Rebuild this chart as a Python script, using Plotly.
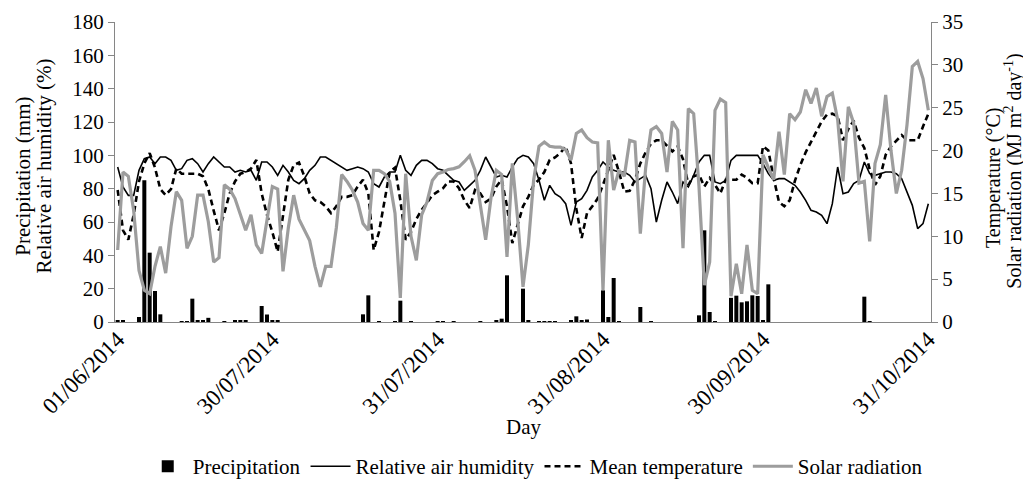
import pandas as pd
import plotly.graph_objects as go

# ---- data (daily values, 01/06/2014 .. 31/10/2014) ----
days = pd.date_range("2014-06-01", "2014-10-31", freq="D")

precipitation = [
    0.8, 0.8, 0, 0, 3, 85, 41.6, 18.6, 4.6, 0,
    0, 0, 0.5, 0.5, 14, 0.8, 0.8, 2.5, 0, 0,
    0.5, 0, 0.8, 0.8, 0.8, 0, 0, 9.6, 4.5, 0.8,
    0.8, 0, 0, 0, 0, 0, 0, 0, 0, 0,
    0, 0, 0, 0, 0, 0, 4.6, 16, 0, 0.5,
    0, 0, 0.5, 12.8, 0, 0.5, 0, 0, 0, 0,
    0.5, 0.5, 0, 0.5, 0, 0, 0, 0, 0.5, 0,
    0, 1, 2, 28, 0, 0, 20, 0.8, 0, 0.5,
    0.5, 0.5, 0.5, 0, 0, 1, 3.4, 1, 1.5, 0,
    0, 19, 3, 26.4, 0.5, 0, 0, 0, 9, 0,
    0.5, 0, 0, 0, 0, 0, 0, 0, 0, 4,
    55, 6, 0.5, 0, 0, 14.5, 15.8, 11.8, 12.4, 16,
    15.6, 1.2, 22.6, 0, 0, 0, 0, 0, 0, 0,
    0, 0, 0, 0, 0, 0, 0, 0, 0, 0,
    15.2, 0.5, 0, 0, 0, 0, 0, 0, 0, 0,
    0, 0, 0,
]

humidity = [
    93, 81, 76, 76, 91, 98, 99, 95, 99, 99,
    97, 91, 92, 97, 98, 95, 90, 95, 99, 96,
    93, 93, 90, 91, 90, 91, 85, 96, 96, 93,
    88, 94, 90, 85, 83, 86, 91, 94, 99, 99,
    97, 95, 93, 91, 92, 93, 92, 90, 83, 81,
    87, 90, 90, 100, 91, 88, 94, 97, 97, 95,
    92, 91, 88, 85, 84, 79, 82, 85, 91, 99,
    93, 87, 88, 87, 93, 98, 100, 99, 95, 85,
    73, 82, 77, 75, 71, 58, 72, 74, 79, 87,
    91, 96, 93, 91, 90, 90, 88, 84, 86, 88,
    80, 60, 73, 84, 78, 71, 84, 81, 88, 96,
    100, 100, 84, 83, 85, 97, 100, 100, 100, 100,
    100, 95, 89, 85, 86, 86, 84, 82, 78, 73,
    67, 66, 64, 59, 71, 93, 77, 78, 83, 85,
    96, 89, 88, 89, 90, 90, 89, 86, 78, 70,
    56, 59, 71,
]

temperature = [
    15.4, 10.7, 9.6, 12.5, 16.4, 18.5, 19.7, 18, 15.5, 14.8,
    15.5, 17.9, 17.3, 17.3, 17.3, 17.3, 17, 15.5, 13, 10.7,
    12.7, 15, 16.4, 17.3, 17.5, 17.9, 18.9, 15, 12.5, 10.5,
    8.2, 12.3, 16.6, 18.3, 18.6, 17, 15, 14.2, 14, 13.5,
    12.7, 13.5, 14.6, 14.6, 14.8, 15.8, 16.6, 15, 8.4, 10.5,
    14, 17.5, 18, 14.2, 9.6, 10.5, 12, 13.1, 13.9, 14.8,
    15.2, 15.6, 16.4, 16.4, 15.6, 14.2, 13.3, 15.4, 15, 14,
    14.4, 15.8, 16.6, 13.5, 9.2, 11.5, 13.5, 14.6, 16, 16.6,
    17.5, 18.9, 19.2, 19.7, 20.5, 18.5, 13.2, 9.8, 12.7, 13.5,
    14.4, 16, 17.8, 19.5, 17.5, 15.2, 15.3, 16.6, 18.5, 19.8,
    20.8, 21.2, 21.2, 20.5, 19.9, 20.5, 19, 16, 17, 17.2,
    15.8, 16.8, 16, 15, 16.6, 16.6, 16.6, 17.2, 16.8, 16.2,
    16.2, 20.5, 20, 16.8, 14, 13.5, 14.2, 16.5, 18.3, 19.8,
    21, 22.3, 23.4, 24.2, 24.3, 24, 21.2, 22.5, 23.5, 21.5,
    20.3, 17.8, 16, 17, 19.5, 20.5, 21.2, 21.8, 21.2, 21.2,
    21.2, 22.8, 24.3,
]

solar = [
    8.4, 17.5, 17, 13, 6, 3.7, 3.3, 6.5, 8.8, 5.7,
    11.1, 15.2, 14.2, 8.6, 10, 14.8, 14.8, 11.7, 7, 7.5,
    16, 15.5, 14.4, 12.5, 10.7, 12.5, 9, 8, 12, 15.8,
    15.5, 5.9, 11, 14.8, 12, 10.7, 9.5, 6.5, 4.1, 6.5,
    6.5, 11, 17.2, 16.4, 15.4, 14, 11.5, 10.7, 17.7, 17.7,
    17.3, 16.4, 12.7, 2.8, 17.3, 10, 7.2, 12.5, 14, 16.5,
    17.3, 17.5, 17.8, 17.9, 18.1, 18.7, 19.4, 17.7, 13.5, 9.6,
    14.5, 17.7, 17.2, 7.6, 18.5, 12, 4.1, 9, 16.6, 20.5,
    21, 20.5, 20.4, 20.4, 20.1, 18.9, 22, 22.4, 21.5, 21,
    20.9, 3.7, 21.2, 15.4, 17.7, 17, 21.2, 21, 10.3, 18,
    22.4, 22.8, 22, 17.5, 23.4, 22.4, 8.6, 24.9, 24.3, 15.8,
    4.3, 7, 24.7, 26, 25.6, 3, 6.8, 3.3, 9, 3.7,
    3.3, 19.5, 18, 16.6, 22.2, 17.2, 24.3, 23.6, 24.5, 27.1,
    25.5, 27.3, 24, 26.3, 26.7, 23.6, 16.4, 25.1, 23.2, 16.2,
    16.4, 9.4, 18.5, 20.7, 26.5, 20, 15, 17.7, 23, 29.8,
    30.4, 28.4, 24.7,
]

tick_dates = ["2014-06-01", "2014-06-30", "2014-07-31", "2014-08-31", "2014-09-30", "2014-10-31"]
tick_text = ["01/06/2014", "30/07/2014", "31/07/2014", "31/08/2014", "30/09/2014", "31/10/2014"]

FONT = "Liberation Serif"
AXIS_GREY = "#868686"


def f(size):
    return dict(family=FONT, size=size, color="black")


fig = go.Figure()
fig.add_trace(go.Bar(
    x=days, y=precipitation, name="Precipitation",
    marker=dict(color="black", line=dict(width=0)),
    width=0.75 * 86400000, yaxis="y",
))
fig.add_trace(go.Scatter(
    x=days, y=humidity, name="Relative air humidity", mode="lines",
    line=dict(color="black", width=1.6), yaxis="y",
))
fig.add_trace(go.Scatter(
    x=days, y=temperature, name="Mean temperature", mode="lines",
    line=dict(color="black", width=2.6, dash="6px,4px"), yaxis="y2",
))
fig.add_trace(go.Scatter(
    x=days, y=solar, name="Solar radiation", mode="lines",
    line=dict(color="#9d9d9d", width=3.2), yaxis="y2",
))

# page body has an 8 px margin, so the figure is sized to fit inside the window
fig.update_layout(
    width=1023, height=473,
    margin=dict(l=107, r=100, t=14, b=159, autoexpand=False),
    paper_bgcolor="white", plot_bgcolor="white",
    font=f(20),
    showlegend=True,
    xaxis=dict(
        range=["2014-05-31 12:00", "2014-10-31 12:00"],
        tickmode="array", tickvals=tick_dates, ticktext=tick_text,
        tickangle=-45, ticks="", showgrid=False, zeroline=False,
        showline=True, linecolor=AXIS_GREY, linewidth=1,
        tickfont=f(23), automargin=False, ticklabelstandoff=-6,
    ),
    yaxis=dict(
        range=[0, 180], tick0=0, dtick=20, ticks="outside", ticklen=6,
        tickcolor=AXIS_GREY, showline=True, linecolor=AXIS_GREY, linewidth=1,
        showgrid=False, zeroline=False, tickfont=f(21), automargin=False,
    ),
    yaxis2=dict(
        range=[0, 35], tick0=0, dtick=5, overlaying="y", side="right",
        ticks="outside", ticklen=6, tickcolor=AXIS_GREY,
        showline=True, linecolor=AXIS_GREY, linewidth=1,
        showgrid=False, zeroline=False, tickfont=f(21), automargin=False,
    ),
    legend=dict(
        orientation="h", x=0.515, xanchor="center", y=-0.482, yanchor="middle",
        font=f(21), bgcolor="rgba(0,0,0,0)", itemwidth=40,
    ),
    annotations=[
        dict(text="Day", x=0.5, y=-0.35, xref="paper", yref="paper",
             showarrow=False, xanchor="center", yanchor="middle", font=f(21)),
        dict(text="Precipitation (mm)", x=-0.113, y=0.487, xref="paper", yref="paper",
             textangle=-90, showarrow=False, xanchor="center", yanchor="middle",
             borderpad=0, font=f(21)),
        dict(text="Relative air humidity (%)", x=-0.087, y=0.518, xref="paper", yref="paper",
             textangle=-90, showarrow=False, xanchor="center", yanchor="middle",
             borderpad=0, font=f(21)),
        dict(text="Temperature (°C)", x=1.076, y=0.48, xref="paper", yref="paper",
             textangle=-90, showarrow=False, xanchor="center", yanchor="middle",
             borderpad=0, font=f(20)),
        dict(text="Solar radiation (MJ m<sup>2</sup> day<sup>-1</sup>)", x=1.1, y=0.503,
             xref="paper", yref="paper",
             textangle=-90, showarrow=False, xanchor="center", yanchor="middle",
             borderpad=0, font=f(20)),
    ],
)

fig.write_html("out.html")
